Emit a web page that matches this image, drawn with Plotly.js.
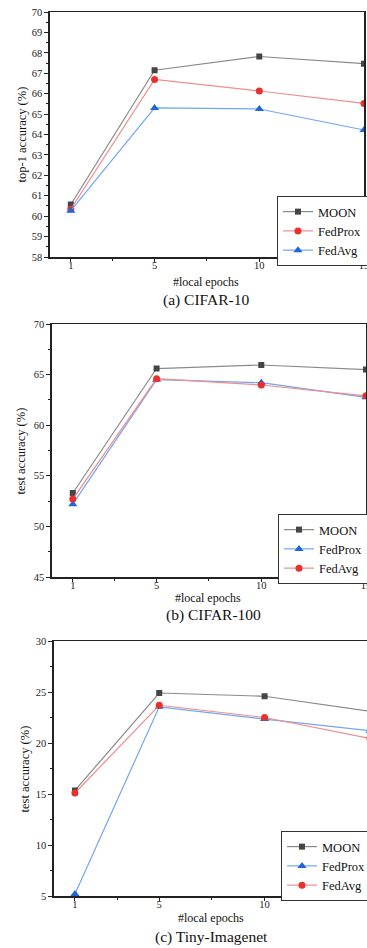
<!DOCTYPE html>
<html>
<head>
<meta charset="utf-8">
<script src="https://cdn.plot.ly/plotly-3.0.1.min.js"></script>
<style>
html,body{margin:0;padding:0;overflow:hidden;background:#fff;}
#chart{width:372px;height:948px;}
</style>
</head>
<body>
<div id="chart"></div>
<script>
// ---- data ----
const epochs = [1, 5, 10, 15];
const epochTickText = ["1", "5", "10", "15"];
const seriesNames = ["MOON", "FedProx", "FedAvg"];

// (a) CIFAR-10
const moonA = [60.57, 67.15, 67.82, 67.47];
const proxA = [60.35, 66.70, 66.13, 65.52];
const avgA  = [60.27, 65.30, 65.25, 64.22];
// (b) CIFAR-100
const moonB = [53.3, 65.6, 65.95, 65.5];
const proxB = [52.2, 64.5, 64.2, 62.75];
const avgB  = [52.7, 64.6, 63.97, 62.9];
// (c) Tiny-Imagenet
const moonC = [15.35, 24.9, 24.58, 23.1];
const proxC = [5.2, 23.55, 22.35, 21.2];
const avgC  = [15.1, 23.7, 22.5, 20.45];

const captions = ["(a) CIFAR-10", "(b) CIFAR-100", "(c) Tiny-Imagenet"];
const yTitles = ["top-1 accuracy (%)", "test accuracy (%)", "test accuracy (%)"];
const xTitle = "#local epochs";

// ---- layout helpers ----
const W = 372, H = 948;
const px = v => v / W;
const py = v => 1 - v / H;
const FONT = "'Liberation Serif', 'Times New Roman', serif";

const styles = {
  MOON: {line: "#8a8a8a", marker: "#454545", symbol: "square", size: 6},
  red:  {line: "#f28b8b", marker: "#e8302e", symbol: "circle", size: 7},
  blue: {line: "#72a6f2", marker: "#1f66dc", symbol: "triangle-up", size: 8}
};

function tr(y, name, st, xa, ya, leg) {
  return {
    x: epochs, y: y, name: name, type: "scatter", mode: "lines+markers",
    xaxis: xa, yaxis: ya, legend: leg,
    line: {color: st.line, width: 1.2},
    marker: {color: st.marker, symbol: st.symbol, size: st.size},
    cliponaxis: true
  };
}

const data = [
  tr(moonA, seriesNames[0], styles.MOON, "x", "y", "legend"),
  tr(proxA, seriesNames[1], styles.red, "x", "y", "legend"),
  tr(avgA, seriesNames[2], styles.blue, "x", "y", "legend"),
  tr(moonB, seriesNames[0], styles.MOON, "x2", "y2", "legend2"),
  tr(proxB, seriesNames[1], styles.blue, "x2", "y2", "legend2"),
  tr(avgB, seriesNames[2], styles.red, "x2", "y2", "legend2"),
  tr(moonC, seriesNames[0], styles.MOON, "x3", "y3", "legend3"),
  tr(proxC, seriesNames[1], styles.blue, "x3", "y3", "legend3"),
  tr(avgC, seriesNames[2], styles.red, "x3", "y3", "legend3")
];

// panel geometry in pixels
const panels = [
  {l: 50, r: 365, t: 12, b: 257, yr: [58, 70], dt: 1, mdt: 0.5,
   xt: {x: 207, y: 282}, cap: {x: 207, y: 300}, yt: {x: 22},
   leg: {x: 277, y: 196}},
  {l: 52, r: 367, t: 324, b: 577, yr: [45, 70], dt: 5, mdt: 2.5,
   xt: {x: 209, y: 598}, cap: {x: 214, y: 615}, yt: {x: 22},
   leg: {x: 278, y: 514}},
  {l: 54, r: 371, t: 641, b: 896, yr: [5, 30], dt: 5, mdt: 2.5,
   xt: {x: 212, y: 918}, cap: {x: 212, y: 937}, yt: {x: 25},
   leg: {x: 282, y: 831}}
];

const layout = {
  width: W, height: H,
  margin: {l: 0, r: 0, t: 0, b: 0},
  paper_bgcolor: "#fff", plot_bgcolor: "#fff",
  font: {family: FONT, color: "#111", size: 11},
  annotations: [],
  showlegend: true
};

panels.forEach((p, i) => {
  const sx = i === 0 ? "" : String(i + 1);
  const ax = {
    domain: [px(p.l), px(p.r)], anchor: "y" + sx,
    range: [0, 15], tickmode: "array", tickvals: epochs, ticktext: epochTickText,
    ticks: "outside", ticklen: 3, tickwidth: 1, tickcolor: "#222",
    ticklabelstandoff: -5,
    minor: {tickmode: "array", tickvals: [3, 7.5, 12.5], ticks: "outside", ticklen: 2, tickcolor: "#222"},
    showline: true, linecolor: "#222", linewidth: 1.5, mirror: true,
    showgrid: false, zeroline: false, fixedrange: true,
    tickfont: {family: FONT, size: 10.5, color: "#222"}
  };
  const ay = {
    domain: [py(p.b), py(p.t)], anchor: "x" + sx,
    range: p.yr, dtick: p.dt, tick0: p.yr[0],
    ticks: "outside", ticklen: 4, tickwidth: 1, tickcolor: "#222",
    minor: {dtick: p.mdt, ticks: "outside", ticklen: 2, tickcolor: "#222"},
    showline: true, linecolor: "#222", linewidth: 1.5, mirror: true,
    showgrid: false, zeroline: false, fixedrange: true,
    tickfont: {family: FONT, size: 10.5, color: "#222"}
  };
  layout["xaxis" + sx] = ax;
  layout["yaxis" + sx] = ay;
  layout[i === 0 ? "legend" : "legend" + (i + 1)] = {
    x: px(p.leg.x), y: py(p.leg.y), xanchor: "left", yanchor: "top",
    xref: "paper", yref: "paper",
    bgcolor: "#fff", bordercolor: "#333", borderwidth: 1,
    font: {family: FONT, size: 12.5, color: "#111"},
    itemwidth: 30, tracegroupgap: 0
  };
  layout.annotations.push(
    {text: xTitle, x: px(p.xt.x), y: py(p.xt.y), xref: "paper", yref: "paper",
     xanchor: "center", yanchor: "middle", showarrow: false,
     font: {family: FONT, size: 12, color: "#111"}},
    {text: captions[i], x: px(p.cap.x), y: py(p.cap.y), xref: "paper", yref: "paper",
     xanchor: "center", yanchor: "middle", showarrow: false,
     font: {family: FONT, size: 15.5, color: "#111"}},
    {text: yTitles[i], x: px(p.yt.x), y: py((p.t + p.b) / 2), xref: "paper", yref: "paper",
     xanchor: "center", yanchor: "middle", showarrow: false, textangle: -90,
     font: {family: FONT, size: 12.5, color: "#111"}}
  );
});

Plotly.newPlot("chart", data, layout, {staticPlot: true, displayModeBar: false});
</script>
</body>
</html>
